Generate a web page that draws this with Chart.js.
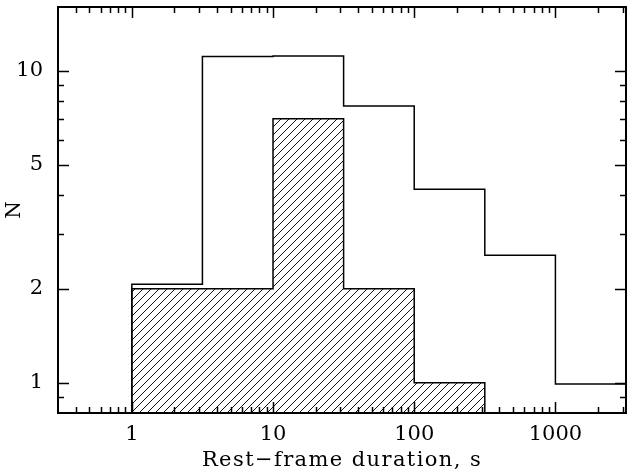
<!DOCTYPE html>
<html>
<head>
<meta charset="utf-8">
<script src="https://cdn.jsdelivr.net/npm/chart.js@4/dist/chart.umd.min.js"></script>
<style>
  html, body { margin: 0; padding: 0; background: #fff; }
  canvas { display: block; }
</style>
</head>
<body>
<canvas id="c" width="627" height="472"></canvas>
<script>
// ---- data ----
const allEdges     = [1, 3.162, 10, 31.62, 100, 316.2, 1000, 3162];
const allCounts    = [2.07, 11.1, 11.15, 7.7, 4.17, 2.56, 0.99];
const hatchEdges   = [1, 3.162, 10, 31.62, 100, 316.2];
const hatchCounts  = [2, 2, 7.01, 2, 1];

const xRange = [0.3162, 3162];
const yRange = [0.8, 16];

const xLabelTicks = [1, 10, 100, 1000];
const xMinorTicks = [0.4,0.5,0.6,0.7,0.8,0.9, 2,3,4,5,6,7,8,9, 20,30,40,50,60,70,80,90,
                     200,300,400,500,600,700,800,900, 2000,3000];
const yLabelTicks = [1, 2, 5, 10];
const yMinorTicks = [0.9, 3, 4, 6, 7, 8, 9];

const xTitle = 'Rest\u2212frame duration, s';
const yTitle = 'N';

// build step points (left edge -> value), closing down to the axis minimum
function stepPoints(edges, counts) {
  const pts = [{x: edges[0], y: yRange[0]}];
  counts.forEach((c, i) => pts.push({x: edges[i], y: c}));
  pts.push({x: edges[edges.length - 1], y: counts[counts.length - 1]});
  pts.push({x: edges[edges.length - 1], y: yRange[0]});
  return pts;
}

const canvas = document.getElementById('c');
const ctx0 = canvas.getContext('2d');

function makeHatch() {
  const s = 8;
  const c = document.createElement('canvas');
  c.width = s; c.height = s;
  const g = c.getContext('2d');
  g.strokeStyle = '#111';
  g.lineWidth = 1;
  g.beginPath();
  g.moveTo(-1, s + 1); g.lineTo(s + 1, -1);
  g.moveTo(-3, 3); g.lineTo(3, -3);
  g.moveTo(s - 3, s + 3); g.lineTo(s + 3, s - 3);
  g.stroke();
  return ctx0.createPattern(c, 'repeat');
}

const FONT = '"DejaVu Serif", "Liberation Serif", serif';

const frameTicks = {
  id: 'frameTicks',
  afterDatasetsDraw(chart) {
    const {ctx, chartArea: a, scales: {x, y}} = chart;
    ctx.save();
    ctx.strokeStyle = '#000';
    ctx.lineWidth = 1.5;
    ctx.beginPath();
    const xt = (v, len) => {
      const p = Math.round(x.getPixelForValue(v)) + 0.5;
      ctx.moveTo(p, a.bottom); ctx.lineTo(p, a.bottom - len);
      ctx.moveTo(p, a.top); ctx.lineTo(p, a.top + len);
    };
    const yt = (v, len) => {
      const p = Math.round(y.getPixelForValue(v)) + 0.5;
      ctx.moveTo(a.left, p); ctx.lineTo(a.left + len, p);
      ctx.moveTo(a.right, p); ctx.lineTo(a.right - len, p);
    };
    xLabelTicks.forEach(v => xt(v, 11));
    xMinorTicks.forEach(v => xt(v, 6));
    yLabelTicks.forEach(v => yt(v, 11));
    yMinorTicks.forEach(v => yt(v, 6));
    ctx.stroke();
    ctx.lineWidth = 2;
    ctx.strokeRect(a.left, a.top, a.right - a.left, a.bottom - a.top);
    ctx.restore();
  }
};

function spacedTitle(s, spacing) {
  if (s._spacedTitle) return;
  const orig = s.drawTitle.bind(s);
  s.drawTitle = function () {
    const c = this.ctx;
    c.save();
    try { c.letterSpacing = spacing; } catch (e) {}
    orig();
    c.restore();
  };
  s._spacedTitle = true;
}

new Chart(canvas, {
  type: 'line',
  data: {
    datasets: [
      {
        data: stepPoints(hatchEdges, hatchCounts),
        stepped: 'before',
        fill: 'start',
        backgroundColor: makeHatch(),
        borderColor: '#000',
        borderWidth: 1.5,
        pointRadius: 0
      },
      {
        data: stepPoints(allEdges, allCounts),
        stepped: 'before',
        fill: false,
        borderColor: '#000',
        borderWidth: 1.5,
        pointRadius: 0
      }
    ]
  },
  options: {
    responsive: false,
    animation: false,
    devicePixelRatio: 1,
    layout: { padding: { left: 0, right: 1, top: 7, bottom: 0 } },
    plugins: { legend: { display: false }, tooltip: { enabled: false } },
    scales: {
      x: {
        type: 'logarithmic',
        min: xRange[0], max: xRange[1],
        position: 'bottom',
        grid: { display: false, drawTicks: false },
        border: { display: false },
        afterBuildTicks: s => { s.ticks = xLabelTicks.map(v => ({value: v})); },
        afterFit: s => {
          s.height = 59; s.paddingLeft = 0; s.paddingRight = 0;
          spacedTitle(s, '1.4px');
        },
        ticks: {
          autoSkip: false, maxRotation: 0, padding: 9,
          color: '#000', font: { family: FONT, size: 21 },
          callback: v => String(v)
        },
        title: {
          display: true, text: xTitle, color: '#000',
          font: { family: FONT, size: 21 },
          padding: { top: 0, bottom: -1 }
        }
      },
      y: {
        type: 'logarithmic',
        min: yRange[0], max: yRange[1],
        position: 'left',
        grid: { display: false, drawTicks: false },
        border: { display: false },
        afterBuildTicks: s => { s.ticks = yLabelTicks.map(v => ({value: v})); },
        afterFit: s => { s.width = 58; s.paddingTop = 0; s.paddingBottom = 0; },
        ticks: {
          autoSkip: false, padding: 15,
          color: '#000', font: { family: FONT, size: 21 },
          callback: v => String(v)
        },
        title: {
          display: true, text: yTitle, color: '#000',
          font: { family: FONT, size: 20 },
          padding: { top: 3, bottom: 0 }
        }
      }
    }
  },
  plugins: [frameTicks]
});
</script>
</body>
</html>
